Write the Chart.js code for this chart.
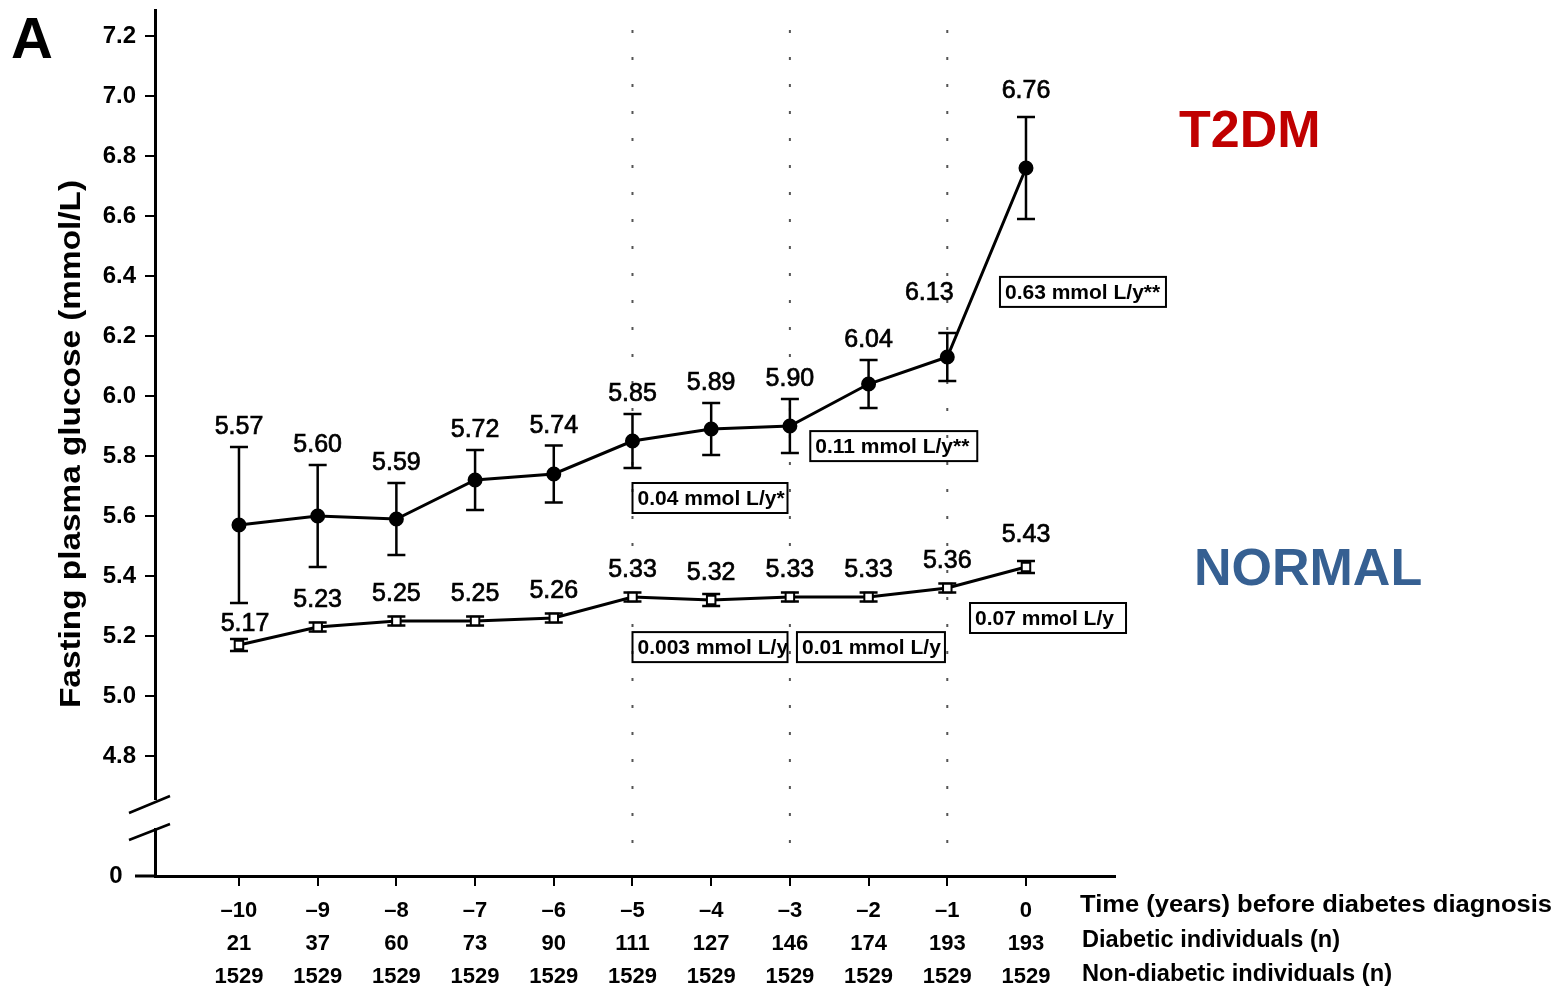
<!DOCTYPE html>
<html>
<head>
<meta charset="utf-8">
<script src="https://cdn.jsdelivr.net/npm/chart.js@4.4.1/dist/chart.umd.min.js"></script>
<style>
  body { margin: 0; background: #fff; }
  #wrap { width: 1562px; height: 988px; }
</style>
</head>
<body>
<div id="wrap"><canvas id="fpg"></canvas></div>
<script>
// data
const years = [-10, -9, -8, -7, -6, -5, -4, -3, -2, -1, 0];
const diabeticN = [21, 37, 60, 73, 90, 111, 127, 146, 174, 193, 193];
const nonDiabeticN = [1529, 1529, 1529, 1529, 1529, 1529, 1529, 1529, 1529, 1529, 1529];
const t2dmValues = [5.57, 5.60, 5.59, 5.72, 5.74, 5.85, 5.89, 5.90, 6.04, 6.13, 6.76];
const t2dmErr = [0.26, 0.17, 0.12, 0.10, 0.095, 0.09, 0.087, 0.09, 0.08, 0.08, 0.17];
const normalValues = [5.17, 5.23, 5.25, 5.25, 5.26, 5.33, 5.32, 5.33, 5.33, 5.36, 5.43];
const normalErr = [0.02, 0.015, 0.015, 0.015, 0.015, 0.015, 0.02, 0.015, 0.015, 0.015, 0.02];
const yTicks = [4.4, 4.8, 5.0, 5.2, 5.4, 5.6, 5.8, 6.0, 6.2, 6.4, 6.6, 6.8, 7.0, 7.2];
const t2dmRates = ["0.04 mmol L/y*", "0.11 mmol L/y**", "0.63 mmol L/y**"];
const normalRates = ["0.003 mmol L/y", "0.01 mmol L/y", "0.07 mmol L/y"];

const FONT = "'Liberation Sans', Arial, sans-serif";

function pts(vals) {
  return years.map((x, i) => ({x: x, y: vals[i]}));
}

// text squeezed/stretched to a given width (the scan is wider than Arial)
function fitText(ctx, txt, x, y, w) {
  const m = ctx.measureText(txt).width;
  ctx.save();
  ctx.translate(x, y);
  ctx.scale(w / m, 1);
  ctx.fillText(txt, 0, 0);
  ctx.restore();
}

const decor = {
  id: 'decor',
  beforeDatasetsDraw(chart) {
    const ctx = chart.ctx, xs = chart.scales.x, ys = chart.scales.y, a = chart.chartArea;
    ctx.save();
    // dotted verticals
    ctx.strokeStyle = '#555';
    ctx.lineWidth = 2;
    ctx.setLineDash([3, 24]);
    [-5, -3, -1].forEach(v => {
      const px = xs.getPixelForValue(v);
      ctx.beginPath();
      ctx.moveTo(px, a.top + 20);
      ctx.lineTo(px, a.bottom - 15);
      ctx.stroke();
    });
    ctx.setLineDash([]);
    // error bars
    const drawErr = (vals, errs, cap, lw) => {
      ctx.strokeStyle = '#000';
      ctx.lineWidth = lw;
      vals.forEach((v, i) => {
        const px = xs.getPixelForValue(years[i]);
        const t = ys.getPixelForValue(v + errs[i]);
        const b = ys.getPixelForValue(v - errs[i]);
        ctx.beginPath();
        ctx.moveTo(px, t); ctx.lineTo(px, b);
        ctx.moveTo(px - cap, t); ctx.lineTo(px + cap, t);
        ctx.moveTo(px - cap, b); ctx.lineTo(px + cap, b);
        ctx.stroke();
      });
    };
    drawErr(t2dmValues, t2dmErr, 9, 2.5);
    drawErr(normalValues, normalErr, 9, 2.5);
    ctx.restore();
  },
  afterDraw(chart) {
    const ctx = chart.ctx, xs = chart.scales.x, ys = chart.scales.y, a = chart.chartArea;
    ctx.save();
    // value labels
    ctx.fillStyle = '#000';
    ctx.strokeStyle = '#000';
    ctx.lineWidth = 0.7;
    ctx.font = '25px ' + FONT;
    ctx.textAlign = 'center';
    ctx.textBaseline = 'bottom';
    const label = (t, x, y) => { ctx.fillText(t, x, y); ctx.strokeText(t, x, y); };
    t2dmValues.forEach((v, i) => {
      let px = xs.getPixelForValue(years[i]);
      let py = ys.getPixelForValue(v + t2dmErr[i]) - 7;
      if (i === 9) { px -= 18; py -= 20; }
      if (i === 10) { py -= 6; }
      label(v.toFixed(2), px, py);
    });
    normalValues.forEach((v, i) => {
      let px = xs.getPixelForValue(years[i]);
      let py = ys.getPixelForValue(v) - 14;
      if (i === 0) { px += 6; py += 6; }
      if (i === 10) { py -= 5; }
      label(v.toFixed(2), px, py);
    });
    // rate boxes
    const boxes = [
      [t2dmRates[0], -4.015, 5.66, 155],
      [t2dmRates[1], -1.68, 5.833, 167],
      [t2dmRates[2], 0.724, 6.347, 166],
      [normalRates[0], -4.015, 5.163, 155],
      [normalRates[1], -1.97, 5.163, 148],
      [normalRates[2], 0.28, 5.26, 156]
    ];
    ctx.font = 'bold 21px ' + FONT;
    ctx.textAlign = 'left';
    ctx.textBaseline = 'middle';
    ctx.lineWidth = 2;
    boxes.forEach(b => {
      const cx = xs.getPixelForValue(b[1]), cy = ys.getPixelForValue(b[2]);
      const w = b[3], h = 30;
      ctx.strokeRect(cx - w / 2, cy - h / 2, w, h);
      ctx.fillText(b[0], cx - w / 2 + 5, cy + 1);
    });
    // y axis break
    const yb = a.bottom;
    ctx.fillStyle = '#fff';
    ctx.fillRect(a.left - 3, yb - 76, 6, 28);
    ctx.lineWidth = 2.5;
    ctx.beginPath();
    ctx.moveTo(a.left - 26, yb - 63); ctx.lineTo(a.left + 15, yb - 80);
    ctx.moveTo(a.left - 26, yb - 36); ctx.lineTo(a.left + 15, yb - 52);
    ctx.stroke();
    // x axis extends left of y axis
    ctx.lineWidth = 3;
    ctx.beginPath();
    ctx.moveTo(a.left - 20, yb); ctx.lineTo(a.left, yb);
    ctx.stroke();
    // y title
    ctx.fillStyle = '#000';
    ctx.font = 'bold 29px ' + FONT;
    ctx.textAlign = 'center';
    ctx.textBaseline = 'middle';
    ctx.save();
    ctx.translate(72, 444);
    ctx.rotate(-Math.PI / 2);
    fitText(ctx, 'Fasting plasma glucose (mmol/L)', 0, 0, 528);
    ctx.restore();
    // panel letter
    ctx.font = 'bold 58px ' + FONT;
    ctx.textAlign = 'left';
    ctx.textBaseline = 'alphabetic';
    ctx.fillText('A', 11, 58);
    // row captions right of axis
    ctx.font = 'bold 23px ' + FONT;
    ctx.textBaseline = 'middle';
    fitText(ctx, 'Time (years) before diabetes diagnosis', 1080, 906, 472);
    fitText(ctx, 'Diabetic individuals (n)', 1082, 941, 258);
    fitText(ctx, 'Non-diabetic individuals (n)', 1082, 975, 310);
    // series names
    ctx.font = 'bold 52px ' + FONT;
    ctx.fillStyle = '#C00000';
    ctx.fillText('T2DM', 1179, 133);
    ctx.fillStyle = '#366092';
    ctx.fillText('NORMAL', 1194, 571);
    ctx.restore();
  }
};

new Chart(document.getElementById('fpg'), {
  type: 'line',
  data: {
    datasets: [{
      label: 'T2DM',
      data: pts(t2dmValues),
      borderColor: '#000',
      borderWidth: 3,
      pointRadius: 6,
      pointBackgroundColor: '#000',
      pointBorderColor: '#000',
      tension: 0
    }, {
      label: 'NORMAL',
      data: pts(normalValues),
      borderColor: '#000',
      borderWidth: 3,
      pointStyle: 'rect',
      pointRadius: 6,
      pointBorderWidth: 2,
      pointBackgroundColor: '#fff',
      pointBorderColor: '#000',
      tension: 0
    }]
  },
  options: {
    responsive: true,
    maintainAspectRatio: false,
    animation: false,
    layout: { padding: { top: 10, right: 447, left: 0, bottom: 0 } },
    plugins: { legend: { display: false }, tooltip: { enabled: false } },
    scales: {
      x: {
        type: 'linear',
        min: -11.067,
        max: 1.131,
        afterBuildTicks: s => { s.ticks = years.map(v => ({value: v})); },
        afterFit: s => { s.height = 112; s.paddingLeft = 0; s.paddingRight = 0; },
        border: { display: true, color: '#000', width: 3 },
        grid: { drawOnChartArea: false, drawTicks: true, tickLength: 10, color: '#000', lineWidth: 2 },
        ticks: {
          autoSkip: false,
          maxRotation: 0,
          padding: 8,
          color: '#000',
          font: { family: FONT, size: 22, weight: 'bold', lineHeight: 1.5 },
          callback: v => {
            const i = years.indexOf(v);
            return [(v < 0 ? '\u2013' + Math.abs(v) : String(v)), String(diabeticN[i]), String(nonDiabeticN[i])];
          }
        }
      },
      y: {
        type: 'linear',
        min: 4.4,
        max: 7.2867,
        afterBuildTicks: s => { s.ticks = yTicks.map(v => ({value: v})); },
        afterFit: s => { s.width = 155; s.paddingTop = 0; s.paddingBottom = 0; },
        border: { display: true, color: '#000', width: 3 },
        grid: { drawOnChartArea: false, drawTicks: true, tickLength: 10, color: '#000', lineWidth: 2 },
        ticks: {
          padding: 9,
          color: '#000',
          font: { family: FONT, size: 24, weight: 'bold' },
          callback: v => v === 4.4 ? '0  ' : v.toFixed(1)
        }
      }
    }
  },
  plugins: [decor]
});
</script>
</body>
</html>
